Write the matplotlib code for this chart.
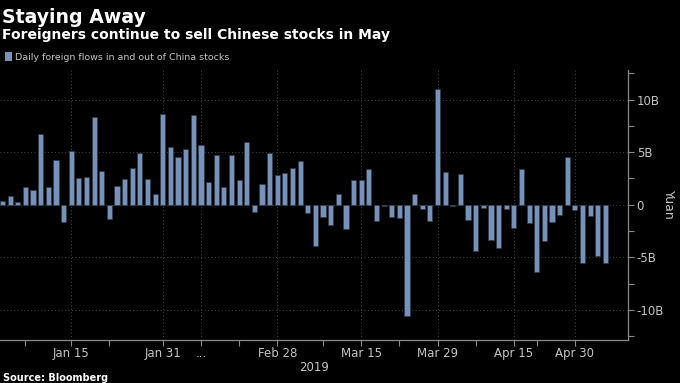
import matplotlib
matplotlib.use('Agg')
import matplotlib.pyplot as plt
from matplotlib.patches import Patch

# daily northbound flows, billion yuan, one value per trading day (Jan 2 - May 9 2019)
flows = [0.4, 0.8, 0.25, 1.65, 1.43, 6.73, 1.65, 4.29, -1.65, 5.14,
         2.54, 2.63, 8.38, 3.24, -1.37, 1.81, 2.48, 3.49, 4.95, 2.41,
         1.02, 8.63, 5.52, 4.57, 5.33, 8.57, 5.71, 2.19, 4.76, 1.65,
         4.76, 2.35, 5.97, -0.67, 2.0, 4.89, 2.83, 3.05, 3.49, 4.13,
         -0.79, -3.9, -1.17, -1.94, 1.02, -2.29, 2.35, 2.32, 3.40, -1.56,
         -0.1, -1.17, -1.30, -10.63, 1.02, -0.44, -1.56, 11.05, 3.11, -0.13,
         2.89, -1.43, -4.41, -0.35, -3.33, -4.13, -0.44, -2.22, 3.43, -1.78,
         -6.38, -3.46, -1.62, -0.95, 4.5, -0.51, -5.52, -1.08, -4.92, -5.59]

# date ticks (index of trading day in the series)
date_ticks = [9, 21, 26, 36, 47, 57, 67, 75]
date_labels = ['Jan 15', 'Jan 31', '...', 'Feb 28', 'Mar 15', 'Mar 29', 'Apr 15', 'Apr 30']
minor_ticks = [3, 14, 31, 42, 52, 62, 70]

y_ticks = [-10, -5, 0, 5, 10]
y_labels = ['-10B', '-5B', '0', '5B', '10B']

bar_blue = '#7592bb'
tick_grey = '#c4c4c4'
spine_grey = '#8a8a8a'

fig = plt.figure(figsize=(6.8, 3.83), dpi=100, facecolor='black')
ax = fig.add_axes([0, 0.113, 0.924, 0.705], facecolor='black')

ax.bar(range(len(flows)), flows, width=0.68, color=bar_blue,
       edgecolor='#2e3846', linewidth=0.5, zorder=3)

ax.set_xlim(-0.33, 82.0)
ax.set_ylim(-12.85, 12.85)

# axes styling
for side in ['top', 'left']:
    ax.spines[side].set_visible(False)
for side in ['bottom', 'right']:
    ax.spines[side].set_color(spine_grey)
    ax.spines[side].set_linewidth(0.9)

ax.set_xticks(date_ticks)
ax.set_xticklabels(date_labels)
ax.set_xticks(minor_ticks, minor=True)
ax.tick_params(axis='x', which='both', colors=spine_grey, labelcolor=tick_grey,
               labelsize=8.5, length=4, width=0.8, pad=1)

ax.yaxis.tick_right()
ax.yaxis.set_label_position('right')
ax.set_yticks(y_ticks)
ax.set_yticklabels(y_labels)
ax.set_yticks([-12.5, -7.5, -2.5, 2.5, 7.5, 12.5], minor=True)
ax.tick_params(axis='y', which='both', colors=spine_grey, labelcolor=tick_grey,
               labelsize=8.5, length=4, width=0.8, pad=2)

ax.grid(True, which='major', linestyle=(0, (1, 2.5)), color='#4a4a4a', linewidth=0.7, zorder=0)

ax.set_xlabel('2019', color=tick_grey, fontsize=8.5, labelpad=1)
ax.set_ylabel('Yuan', color=tick_grey, fontsize=9, rotation=270, labelpad=8)

# titles
fig.text(0.003, 0.94, 'Staying Away', color='white', fontsize=13.6,
         fontweight='bold', ha='left', va='baseline')
fig.text(0.003, 0.897, 'Foreigners continue to sell Chinese stocks in May', color='white',
         fontsize=10, fontweight='bold', ha='left', va='baseline')

leg = fig.legend(handles=[Patch(facecolor=bar_blue, edgecolor='none')],
                 labels=['Daily foreign flows in and out of China stocks'],
                 loc='center left', bbox_to_anchor=(0.007, 0.851), frameon=False,
                 fontsize=6.8, handlelength=0.8, handleheight=1.1, handletextpad=0.3,
                 borderaxespad=0, borderpad=0)
for t in leg.get_texts():
    t.set_color(tick_grey)

fig.text(0.004, 0.006, 'Source: Bloomberg', color='white', fontsize=7,
         fontweight='bold', ha='left', va='baseline')

fig.savefig('out.png', dpi=100, facecolor='black')
